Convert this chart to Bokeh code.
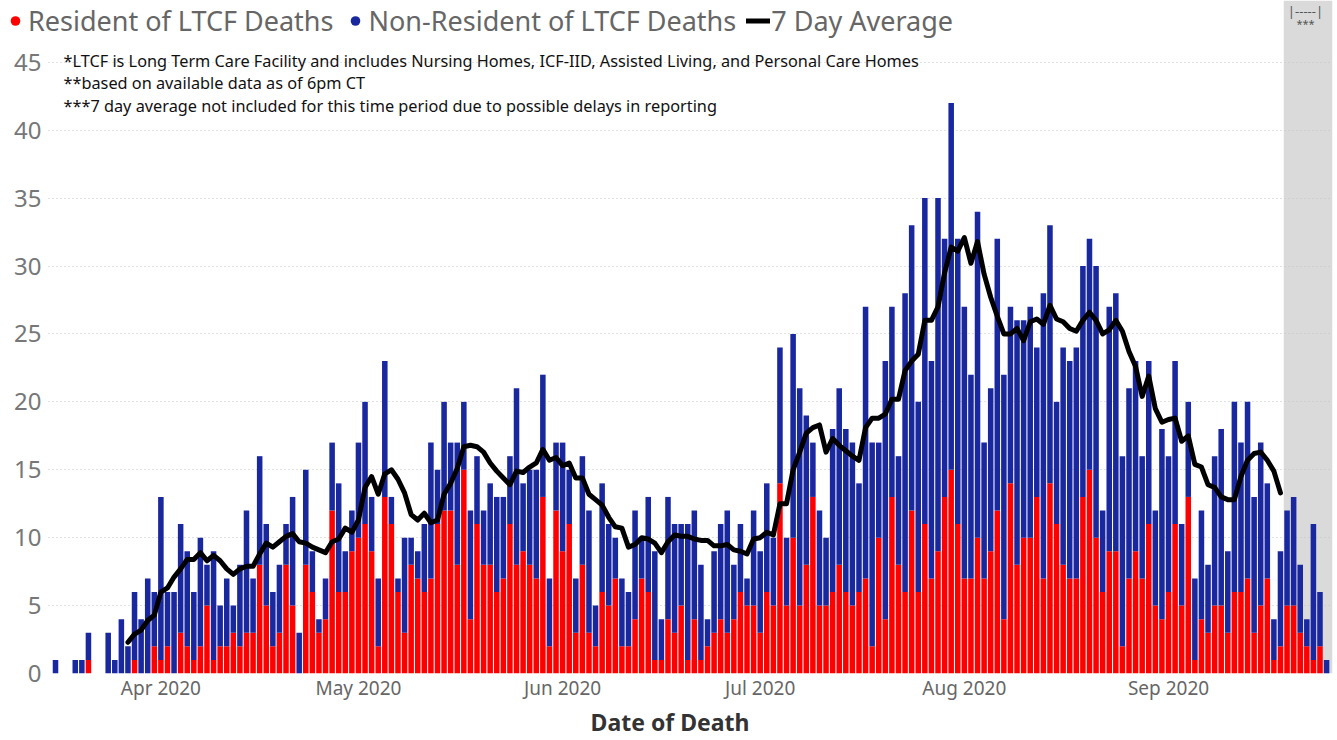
import pandas as pd
from bokeh.plotting import figure
from bokeh.models import (ColumnDataSource, Range1d, FixedTicker, DatetimeTickFormatter,
                          BoxAnnotation, Label, Legend, LegendItem)
from bokeh.embed import file_html
from bokeh.resources import INLINE

# ---------------- data ----------------
first_date = "2020-03-16"

resident = [
    0, 0, 0, 0, 0, 1, 0, 0, 0, 0,
    0, 0, 1, 0, 0, 2, 1, 2, 0, 3,
    2, 1, 2, 5, 1, 2, 2, 3, 2, 3,
    3, 8, 5, 2, 3, 8, 5, 0, 8, 6,
    3, 4, 12, 6, 6, 9, 10, 11, 9, 2,
    13, 11, 6, 3, 8, 7, 6, 7, 11, 12,
    12, 8, 15, 4, 11, 8, 8, 6, 7, 11,
    8, 9, 8, 7, 13, 2, 12, 9, 11, 3,
    8, 3, 2, 6, 5, 7, 2, 2, 4, 7,
    6, 1, 1, 4, 3, 5, 1, 4, 1, 2,
    3, 4, 3, 4, 6, 5, 5, 3, 6, 5,
    14, 5, 10, 5, 8, 13, 5, 5, 6, 8,
    6, 5, 6, 7, 2, 10, 4, 13, 8, 6,
    12, 6, 11, 7, 9, 13, 15, 11, 7, 7,
    10, 7, 9, 12, 4, 14, 8, 10, 10, 13,
    7, 14, 11, 8, 7, 7, 13, 15, 10, 6,
    9, 9, 2, 7, 9, 7, 11, 5, 4, 6,
    11, 5, 13, 1, 4, 3, 5, 5, 3, 6,
    6, 7, 3, 5, 7, 1, 2, 5, 5, 3,
    2, 1, 2, 0,
]

non_resident = [
    1, 0, 0, 1, 1, 2, 0, 0, 3, 1,
    4, 2, 5, 4, 7, 4, 12, 4, 6, 8,
    7, 5, 8, 3, 8, 3, 5, 2, 6, 9,
    4, 8, 6, 4, 5, 3, 8, 3, 7, 3,
    1, 3, 5, 8, 3, 3, 7, 9, 4, 5,
    10, 2, 1, 7, 2, 2, 5, 10, 4, 8,
    5, 9, 5, 8, 5, 4, 6, 7, 6, 5,
    13, 5, 7, 8, 9, 5, 5, 8, 4, 4,
    8, 9, 3, 8, 6, 3, 5, 4, 8, 3,
    7, 8, 3, 9, 8, 6, 10, 8, 7, 2,
    6, 7, 9, 4, 5, 2, 7, 6, 8, 5,
    10, 5, 15, 16, 11, 4, 7, 5, 12, 13,
    12, 12, 8, 20, 15, 7, 19, 14, 8, 22,
    21, 14, 24, 16, 26, 19, 27, 21, 20, 15,
    24, 10, 12, 20, 18, 13, 18, 16, 17, 11,
    21, 19, 9, 16, 16, 17, 17, 17, 20, 6,
    18, 19, 14, 14, 14, 9, 12, 7, 14, 10,
    12, 6, 7, 6, 8, 5, 11, 13, 6, 14,
    11, 13, 10, 12, 7, 3, 7, 7, 8, 5,
    2, 10, 4, 1,
]

avg_first_date = "2020-03-27"
avg7 = [
    2.3, 2.9, 3.2, 3.9, 4.3, 6.0, 6.3, 7.1, 7.7, 8.4,
    8.4, 8.9, 8.3, 8.7, 8.3, 7.7, 7.3, 7.7, 7.9, 7.9,
    8.8, 9.6, 9.3, 9.7, 10.1, 10.3, 9.7, 9.6, 9.3, 9.1,
    8.9, 9.7, 9.9, 10.7, 10.4, 11.3, 13.7, 14.5, 13.2, 14.7,
    15.0, 14.3, 13.3, 11.7, 11.3, 11.8, 11.1, 11.3, 13.2, 14.0,
    15.1, 16.7, 16.8, 16.7, 16.3, 15.5, 14.9, 14.4, 13.9, 14.9,
    14.8, 15.2, 15.5, 16.5, 15.7, 15.9, 15.3, 15.5, 14.4, 14.4,
    13.2, 12.8, 12.4, 11.5, 10.8, 10.7, 9.3, 9.5, 10.0, 9.9,
    9.6, 8.9, 9.7, 10.2, 10.1, 10.1, 9.9, 9.8, 9.8, 9.4,
    9.4, 9.5, 9.1, 9.0, 8.8, 9.9, 10.0, 10.4, 10.2, 12.5,
    12.5, 15.0, 16.3, 17.7, 18.1, 18.3, 16.3, 17.3, 16.8, 16.4,
    16.0, 15.7, 18.1, 18.8, 18.8, 19.1, 20.2, 20.2, 22.3, 23.0,
    23.5, 26.0, 26.0, 27.0, 29.5, 31.4, 31.1, 32.1, 30.2, 31.8,
    29.4, 27.7, 26.3, 25.0, 25.0, 25.4, 24.5, 25.9, 26.1, 25.7,
    27.1, 26.1, 25.9, 25.4, 25.2, 26.0, 26.6, 26.0, 25.0, 25.3,
    26.0, 25.2, 23.7, 22.6, 20.4, 21.9, 19.5, 18.5, 18.7, 18.8,
    17.1, 17.5, 15.4, 15.2, 13.9, 13.7, 13.0, 12.8, 12.8, 14.5,
    15.7, 16.2, 16.3, 15.7, 14.9, 13.3,
]

excluded_from = "2020-09-18 12:00"

y_ticks = [0, 5, 10, 15, 20, 25, 30, 35, 40, 45]
month_ticks = ["2020-04-01", "2020-05-01", "2020-06-01", "2020-07-01",
               "2020-08-01", "2020-09-01"]

series_names = ["Resident of LTCF Deaths", "Non-Resident of LTCF Deaths", "7 Day Average"]
notes = [
    "*LTCF is Long Term Care Facility and includes Nursing Homes, ICF-IID, Assisted Living, and Personal Care Homes",
    "**based on available data as of 6pm CT",
    "***7 day average not included for this time period due to possible delays in reporting",
]
x_title = "Date of Death"

# ---------------- figure ----------------
RED = "#FF0000"
BLUE = "#1A28A0"
FONT = "Noto Sans"
DAY_MS = 86400000

dates = pd.date_range(first_date, periods=len(resident), freq="D")
avg_dates = pd.date_range(avg_first_date, periods=len(avg7), freq="D")
src = ColumnDataSource(dict(date=dates, res=resident, nonres=non_resident))

def ms(ts):
    return pd.Timestamp(ts).value / 1e6

# frame spans the whole width; value labels sit inside it, on the left
x_start = dates[0] - pd.Timedelta(days=7.29)
x_plot_start = dates[0] - pd.Timedelta(days=1.06)
x_end = dates[-1] + pd.Timedelta(days=0.9)

p = figure(width=1337, height=740, x_axis_type="datetime",
           output_backend="svg", toolbar_location=None,
           x_range=Range1d(x_start, x_end), y_range=Range1d(0, 49.55),
           min_border_left=7, min_border_right=5, min_border_top=0,
           min_border_bottom=65)
p.outline_line_color = None
p.background_fill_color = "white"
p.border_fill_color = "white"

# excluded period shading (under the grid)
gray = BoxAnnotation(left=ms(excluded_from), fill_color="#DADADA", fill_alpha=1.0,
                     line_color=None, level="image")
p.add_layout(gray)

# grid
p.xgrid.visible = False
p.ygrid.ticker = FixedTicker(ticks=y_ticks)
p.ygrid.grid_line_color = "#C4C4C4"
p.ygrid.grid_line_dash = "1 3"
p.ygrid.grid_line_width = 1
try:
    p.ygrid.cross_bounds = (ms(x_plot_start), ms(x_end))
except Exception:
    pass

# bars
p.vbar_stack(["res", "nonres"], x="date", width=0.84 * DAY_MS,
             color=[RED, BLUE], line_color=None, source=src)

# 7-day average
line_r = p.line(avg_dates, avg7, line_width=5, color="black",
                line_join="round", line_cap="round")

# legend (marker renderers carry no visible point: y is NaN)
r_res = p.scatter(x=[dates[0]], y=[float("nan")], marker="circle", size=11,
                  color=RED, line_color=None)
r_non = p.scatter(x=[dates[0]], y=[float("nan")], marker="circle", size=11,
                  color=BLUE, line_color=None)
legend = Legend(items=[LegendItem(label=series_names[0], renderers=[r_res]),
                       LegendItem(label=series_names[1], renderers=[r_non]),
                       LegendItem(label=series_names[2], renderers=[line_r])],
                orientation="horizontal", location=(-4, 634),
                label_text_font=FONT, label_text_font_size="27px",
                label_text_color="#666666", glyph_width=24, glyph_height=27,
                label_height=27, label_standoff=1, spacing=10, padding=0,
                margin=0, background_fill_alpha=0, border_line_alpha=0)
p.add_layout(legend)

# axes
p.yaxis.ticker = FixedTicker(ticks=y_ticks)
p.yaxis.axis_line_color = None
p.yaxis.major_tick_line_color = None
p.yaxis.minor_tick_line_color = None
p.yaxis.major_tick_out = 0
p.yaxis.major_tick_in = 0
p.yaxis.major_label_text_font = FONT
p.yaxis.major_label_text_font_size = "24px"
p.yaxis.major_label_text_color = "#777777"
p.yaxis.major_label_standoff = -34

fmt = "%b %Y"
p.xaxis.ticker = FixedTicker(ticks=[ms(m) for m in month_ticks])
p.xaxis.formatter = DatetimeTickFormatter(days=fmt, months=fmt, years=fmt,
                                          hours=fmt, minutes=fmt, seconds=fmt,
                                          milliseconds=fmt, microseconds=fmt,
                                          hourmin=fmt, minsec=fmt)
p.xaxis.axis_line_color = None
p.xaxis.major_tick_line_color = None
p.xaxis.minor_tick_line_color = None
p.xaxis.major_label_text_font = FONT
p.xaxis.major_label_text_font_size = "19px"
p.xaxis.major_label_text_color = "#666666"
p.xaxis.major_label_standoff = -5
p.xaxis.axis_label = x_title
p.xaxis.axis_label_text_font = FONT
p.xaxis.axis_label_text_font_size = "23px"
p.xaxis.axis_label_text_font_style = "bold"
p.xaxis.axis_label_text_color = "#333333"
p.xaxis.axis_label_standoff = 2

# notes
for i, t in enumerate(notes):
    p.add_layout(Label(x=56, y=613 - i * 22.5, x_units="screen", y_units="screen",
                       text=t, text_font=FONT, text_font_size="16.3px",
                       text_color="#111111", text_baseline="middle"))

# excluded-period marker
p.add_layout(Label(x=1298, y=663, x_units="screen", y_units="screen", text="|-----|",
                   text_font=FONT, text_font_size="13px", text_color="#555555",
                   text_align="center", text_baseline="middle"))
p.add_layout(Label(x=1298, y=650, x_units="screen", y_units="screen", text="***",
                   text_font=FONT, text_font_size="11px", text_color="#555555",
                   text_align="center", text_baseline="middle"))

open("out.html", "w").write(file_html(p, INLINE))
